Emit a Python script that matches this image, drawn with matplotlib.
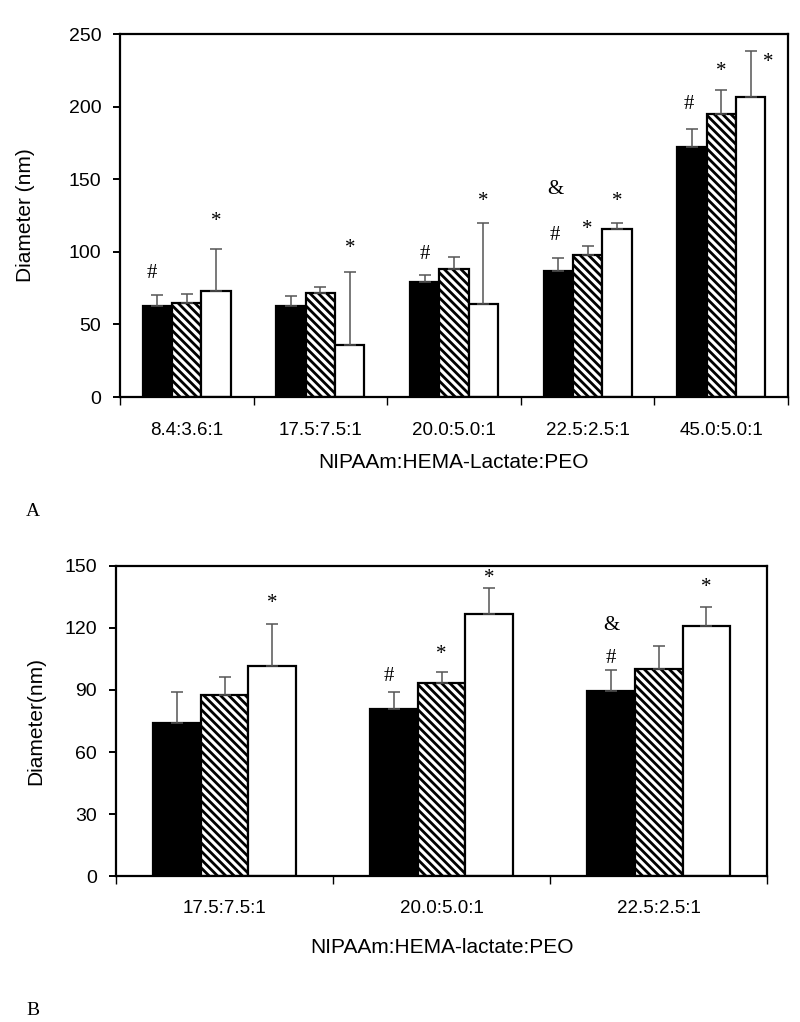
import numpy as np
import matplotlib
matplotlib.use("Agg")
import matplotlib.pyplot as plt
from matplotlib.transforms import offset_copy

plt.rcParams['font.family'] = ['Liberation Sans', 'DejaVu Sans']
plt.rcParams['hatch.linewidth'] = 2.0

# Panel A data
cats_a = ["8.4:3.6:1", "17.5:7.5:1", "20.0:5.0:1", "22.5:2.5:1", "45.0:5.0:1"]
black_a = [62.7, 62.7, 79.0, 86.6, 171.9]
black_a_err = [7.5, 7.1, 5.0, 8.9, 12.7]
hatch_a = [65.0, 71.8, 88.4, 97.8, 194.9]
hatch_a_err = [6.0, 4.1, 8.0, 6.2, 16.7]
white_a = [73.0, 35.8, 64.0, 115.7, 206.8]
white_a_err = [28.7, 50.1, 56.0, 4.3, 31.5]
# (group, series, symbol, y, x shift in bar widths)
marks_a = [(0, 0, '#', 85, -0.2), (0, 2, '*', 124, 0), (1, 2, '*', 105, 0),
           (2, 0, '#', 98.5, 0), (2, 2, '*', 137.6, 0),
           (3, 0, '&', 143, -0.1), (3, 0, '#', 111.5, -0.1), (3, 1, '*', 118, 0),
           (3, 2, '*', 137.6, 0),
           (4, 0, '#', 201.8, -0.1), (4, 1, '*', 227, 0), (4, 2, '*', 233.5, 0.6)]

# Panel B data
cats_b = ["17.5:7.5:1", "20.0:5.0:1", "22.5:2.5:1"]
black_b = [74.0, 81.0, 89.7]
black_b_err = [15.2, 7.8, 10.0]
hatch_b = [87.4, 93.2, 100.2]
hatch_b_err = [8.9, 5.3, 11.2]
white_b = [101.4, 126.9, 121.1]
white_b_err = [20.5, 12.5, 9.0]
marks_b = [(0, 2, '*', 133.6, 0), (1, 0, '#', 96.6, -0.1), (1, 1, '*', 109, 0),
           (1, 2, '*', 146, 0), (2, 0, '&', 121, 0), (2, 0, '#', 105, 0),
           (2, 2, '*', 141.7, 0)]

fig = plt.figure(figsize=(8, 10.22), dpi=100)
ax_a = fig.add_axes([0.150, 0.6115, 0.835, 0.3552])
ax_b = fig.add_axes([0.145, 0.1424, 0.814, 0.3041])

width = 0.22
styles = [dict(color='black', edgecolor='black'),
          dict(color='white', edgecolor='black', hatch='\\\\\\\\'),
          dict(color='white', edgecolor='black')]


def panel(ax, cats, series, errs, marks, ymax, ystep, ylabel, xlabel, ylab_x,
          tick_pad, xlab_y):
    x = np.arange(len(cats))
    for k, (vals, err) in enumerate(zip(series, errs)):
        pos = x + (k - 1) * width
        ax.bar(pos, vals, width, linewidth=1.6, zorder=2, **styles[k])
        ax.errorbar(pos, vals, yerr=[np.zeros(len(vals)), err], fmt='none',
                    ecolor='#555555', elinewidth=1.1, capsize=4, capthick=1.1,
                    zorder=3)
    star_tr = offset_copy(ax.transData, fig=fig, x=0, y=-3, units='points')
    for g, s, sym, yv, dx in marks:
        tr = star_tr if sym == '*' else ax.transData
        ax.text(g + (s - 1 + dx) * width, yv, sym, ha='center', va='center',
                fontsize=15, family=['Liberation Serif'], zorder=4,
                transform=tr)
    ax.set_xlim(-0.5, len(cats) - 0.5)
    ax.set_ylim(0, ymax)
    ax.set_yticks(np.arange(0, ymax + 1, ystep))
    ax.set_xticks(x)
    ax.set_xticklabels(cats, fontsize=13.5)
    ax.set_xticks(np.arange(-0.5, len(cats), 1.0), minor=True)
    ax.tick_params(axis='x', which='major', length=0, pad=tick_pad)
    ax.tick_params(axis='x', which='minor', length=6, width=1.0, direction='out')
    ax.tick_params(axis='y', length=5, width=1.4, direction='out', pad=8.5,
                   labelsize=14)
    for sp in ax.spines.values():
        sp.set_linewidth(1.6)
    ax.set_ylabel(ylabel, fontsize=15)
    ax.yaxis.set_label_coords(ylab_x, 0.5)
    ax.set_xlabel(xlabel, fontsize=15)
    ax.xaxis.set_label_coords(0.5, xlab_y)


panel(ax_a, cats_a, [black_a, hatch_a, white_a],
      [black_a_err, hatch_a_err, white_a_err], marks_a, 250, 50,
      "Diameter (nm)", "NIPAAm:HEMA-Lactate:PEO", -0.127, 18, -0.155)
panel(ax_b, cats_b, [black_b, hatch_b, white_b],
      [black_b_err, hatch_b_err, white_b_err], marks_b, 150, 30,
      "Diameter(nm)", "NIPAAm:HEMA-lactate:PEO", -0.109, 17, -0.198)

fig.text(33 / 800, 1 - 512 / 1022, "A", family=['Liberation Serif'],
         fontsize=14, ha='center', va='center')
fig.text(33 / 800, 1 - 1010 / 1022, "B", family=['Liberation Serif'],
         fontsize=14, ha='center', va='center')

fig.savefig("out.png", dpi=100)
